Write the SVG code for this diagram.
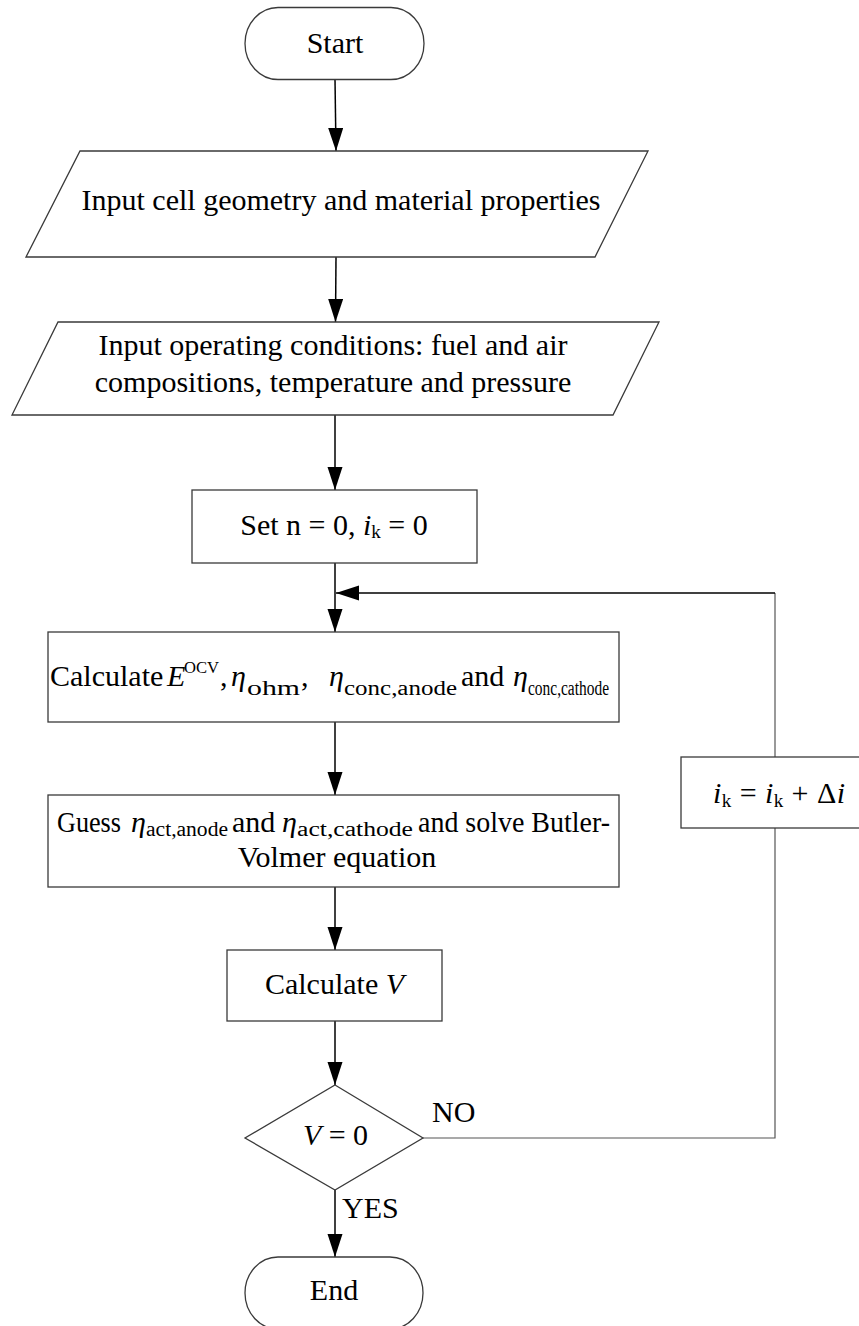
<svg xmlns="http://www.w3.org/2000/svg" width="859" height="1326" viewBox="0 0 859 1326">
<style>
.box{fill:#fff;stroke:#3a3a3a;stroke-width:1.3}
.conn{fill:none;stroke:#000;stroke-width:1.5}
.loop{fill:none;stroke:#555;stroke-width:1.2}
.t{font-family:"Liberation Serif","Times New Roman",serif;font-size:30px;fill:#000}
.i{font-style:italic}
.sub{font-size:20px}
</style>
<defs>
<marker id="ah" markerUnits="userSpaceOnUse" markerWidth="24" markerHeight="16" refX="23" refY="7.5" orient="auto">
<path d="M0,0 L23,7.5 L0,15 z" fill="#000"/>
</marker>
</defs>
<rect width="859" height="1326" fill="#fff"/>
<g id="connectors">
<line class="conn" x1="335" y1="79" x2="336" y2="151" marker-end="url(#ah)"/>
<line class="conn" x1="336" y1="257" x2="335.5" y2="322" marker-end="url(#ah)"/>
<line class="conn" x1="335" y1="415" x2="335" y2="490" marker-end="url(#ah)"/>
<line class="conn" x1="335" y1="563" x2="335" y2="632" marker-end="url(#ah)"/>
<line class="conn" x1="335" y1="722" x2="335" y2="795" marker-end="url(#ah)"/>
<line class="conn" x1="335" y1="887" x2="335" y2="950" marker-end="url(#ah)"/>
<line class="conn" x1="335" y1="1021" x2="335" y2="1085" marker-end="url(#ah)"/>
<line class="conn" x1="335" y1="1190" x2="335" y2="1257" marker-end="url(#ah)"/>
<polyline class="loop" points="423,1138 775,1138 775,828"/>
<line class="loop" x1="775" y1="757" x2="775" y2="593"/>
<line class="conn" x1="775" y1="593" x2="336" y2="593" stroke-width="1.2" marker-end="url(#ah)"/>
</g>
<g id="start">
<rect class="box" x="245" y="7.5" width="179" height="72" rx="33" ry="36"/>
<text class="t" x="335" y="53" text-anchor="middle">Start</text>
</g>
<g id="input-geometry">
<polygon class="box" points="80,151 648,151 595,257 26,257"/>
<text class="t" x="341" y="210" text-anchor="middle">Input cell geometry and material properties</text>
</g>
<g id="input-conditions">
<polygon class="box" points="58,322 659,322 613,415 12,415"/>
<text class="t" x="333" y="355" text-anchor="middle">Input operating conditions: fuel and air</text>
<text class="t" x="333" y="392" text-anchor="middle">compositions, temperature and pressure</text>
</g>
<g id="set">
<rect class="box" x="192" y="490" width="285" height="73"/>
<text class="t" x="334" y="535" text-anchor="middle">Set n = 0, <tspan class="i">i</tspan><tspan font-size="19" dy="3">k</tspan><tspan dy="-3"> = 0</tspan></text>
</g>
<g id="calc-overpotentials">
<rect class="box" x="48" y="632" width="571" height="90"/>
<text class="t" y="686"><tspan x="50">Calculate</tspan><tspan x="167" class="i">E</tspan><tspan x="184" y="673" font-size="17" textLength="35" lengthAdjust="spacingAndGlyphs">OCV</tspan><tspan x="220" y="686">,</tspan><tspan x="231" class="i">η</tspan><tspan x="247" y="695" class="sub" textLength="53" lengthAdjust="spacingAndGlyphs">ohm</tspan><tspan x="301" y="686">,</tspan><tspan x="329" class="i">η</tspan><tspan x="344" y="695" class="sub" textLength="113" lengthAdjust="spacingAndGlyphs">conc,anode</tspan><tspan x="461" y="686">and</tspan><tspan x="513" class="i">η</tspan><tspan x="528" y="695" class="sub" textLength="81" lengthAdjust="spacingAndGlyphs">conc,cathode</tspan></text>
</g>
<g id="guess">
<rect class="box" x="48" y="795" width="571" height="92"/>
<text class="t" y="832"><tspan x="57" textLength="64" lengthAdjust="spacingAndGlyphs">Guess</tspan><tspan x="131" class="i">η</tspan><tspan x="146" y="836" class="sub" textLength="82" lengthAdjust="spacingAndGlyphs">act,anode</tspan><tspan x="232" y="832">and</tspan><tspan x="282" class="i">η</tspan><tspan x="297" y="836" class="sub" textLength="116" lengthAdjust="spacingAndGlyphs">act,cathode</tspan><tspan x="418" y="832" textLength="192" lengthAdjust="spacingAndGlyphs">and solve Butler-</tspan></text>
<text class="t" x="337" y="867" text-anchor="middle">Volmer equation</text>
</g>
<g id="calc-v">
<rect class="box" x="227" y="950" width="215" height="71"/>
<text class="t" x="334.5" y="994" text-anchor="middle">Calculate <tspan class="i">V</tspan></text>
</g>
<g id="decision">
<polygon class="box" points="335,1085 423,1138 335,1190 245,1138"/>
<text class="t" x="335.5" y="1145" text-anchor="middle"><tspan class="i">V</tspan> = 0</text>
<text class="t" x="432" y="1122">NO</text>
<text class="t" x="342" y="1218">YES</text>
</g>
<g id="increment">
<rect class="box" x="681" y="757" width="190" height="71"/>
<text class="t" x="713" y="803" textLength="132"><tspan class="i">i</tspan><tspan font-size="19" dy="4">k</tspan><tspan dy="-4"> = </tspan><tspan class="i">i</tspan><tspan font-size="19" dy="4">k</tspan><tspan dy="-4"> + Δ</tspan><tspan class="i">i</tspan></text>
</g>
<g id="end">
<rect class="box" x="245" y="1257" width="178" height="72" rx="33" ry="36"/>
<text class="t" x="334" y="1300" text-anchor="middle">End</text>
</g>
</svg>
